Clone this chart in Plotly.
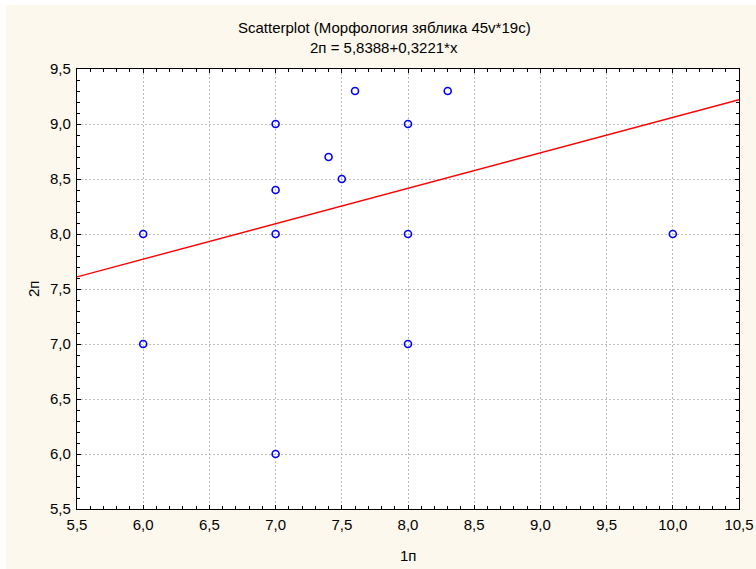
import plotly.graph_objects as go

# Observations: 1п (x) vs 2п (y)
x_vals = [6.0, 6.0, 7.0, 7.0, 7.0, 7.0, 7.4, 7.5, 7.6, 8.0, 8.0, 8.0, 8.3, 10.0]
y_vals = [8.0, 7.0, 9.0, 8.4, 8.0, 6.0, 8.7, 8.5, 9.3, 9.0, 8.0, 7.0, 9.3, 8.0]

# Linear fit coefficients: 2п = a + b*x
intercept = 5.8388
slope = 0.3221

x_range = [5.5, 10.5]
y_range = [5.5, 9.5]
tick_vals = [5.5, 6.0, 6.5, 7.0, 7.5, 8.0, 8.5, 9.0, 9.5, 10.0, 10.5]

title_line1 = "Scatterplot (Морфология зяблика 45v*19c)"
title_line2 = "2п = 5,8388+0,3221*x"
x_label = "1п"
y_label = "2п"

W, H = 756, 569
ml, mr, mt, mb = 77, 17, 69, 60
pw, ph = W - ml - mr, H - mt - mb

font_family = "Liberation Sans, Arial, sans-serif"
fs = 15

fig = go.Figure()

fit_x = x_range
fit_y = [intercept + slope * v for v in fit_x]
fig.add_trace(go.Scatter(
    x=fit_x, y=fit_y, mode="lines",
    line=dict(color="#ff0000", width=1.4),
    hoverinfo="skip", showlegend=False,
))

fig.add_trace(go.Scatter(
    x=x_vals, y=y_vals, mode="markers",
    marker=dict(symbol="circle-open", size=7, color="#0000ff",
                line=dict(width=1.6, color="#0000ff")),
    showlegend=False,
))

axis_common = dict(
    showline=True, linecolor="black", linewidth=1.2, mirror="allticks",
    ticks="inside", ticklen=4, tickcolor="black",
    showgrid=True, gridcolor="#bdbdbd", griddash="2px,2px", gridwidth=1,
    zeroline=False, tickformat=".1f",
    tickfont=dict(family=font_family, size=fs, color="black"),
    minor=dict(ticks="inside", dtick=0.1, ticklen=3, tickcolor="black", showgrid=False),
)

fig.update_xaxes(range=x_range, tickvals=tick_vals, ticklabelstandoff=2, **axis_common)
fig.update_yaxes(range=y_range, tickvals=tick_vals[:9], ticklabelstandoff=2, **axis_common)

# titles are centred on the page rather than on the plot area
title_x = (W / 2 + 6 - ml) / pw

bg = "#fdf8ed"
fig.update_layout(
    width=W, height=H,
    margin=dict(l=ml, r=mr, t=mt, b=mb, autoexpand=False),
    paper_bgcolor=bg, plot_bgcolor="white",
    separators=", ",
    font=dict(family=font_family, size=fs, color="black"),
    shapes=[
        # thin white frame strips along the top and left edges of the page
        dict(type="rect", xref="paper", yref="paper", layer="below",
             x0=-ml / pw, x1=(W - ml) / pw, y0=1 + (mt - 5) / ph, y1=1 + mt / ph,
             fillcolor="white", line=dict(width=0)),
        dict(type="rect", xref="paper", yref="paper", layer="below",
             x0=-ml / pw, x1=-(ml - 6) / pw, y0=-mb / ph, y1=1 + mt / ph,
             fillcolor="white", line=dict(width=0)),
    ],
    annotations=[
        dict(text=title_line1, xref="paper", yref="paper", x=title_x,
             y=1 + (mt - 28) / ph, showarrow=False, yanchor="middle",
             font=dict(size=fs)),
        dict(text=title_line2, xref="paper", yref="paper", x=title_x,
             y=1 + (mt - 48) / ph, showarrow=False, yanchor="middle",
             font=dict(size=fs)),
        dict(text=x_label, xref="paper", yref="paper", x=0.5,
             y=-(555 - (H - mb)) / ph, showarrow=False, yanchor="middle",
             font=dict(size=fs)),
        dict(text=y_label, xref="paper", yref="paper", x=(33 - ml) / pw,
             y=0.5, showarrow=False, textangle=-90, xanchor="center",
             font=dict(size=fs)),
    ],
)

fig.write_html("out.html")
